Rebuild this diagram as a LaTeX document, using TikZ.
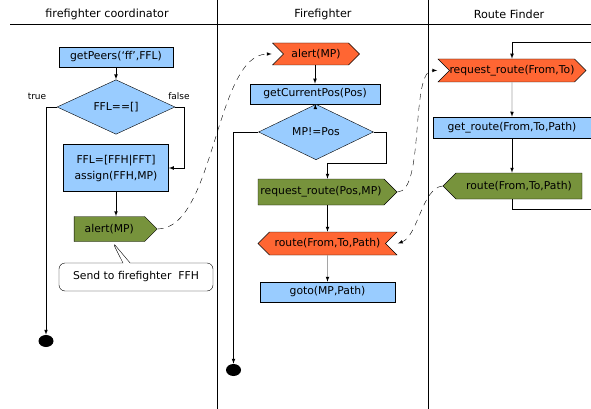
\documentclass[tikz,border=0pt]{standalone}
\usepackage{fontspec}
\setmainfont{DejaVu Sans}
\usetikzlibrary{shapes.geometric,shapes.symbols,shapes.callouts}

\definecolor{actblue}{RGB}{153,204,255}
\definecolor{sigorange}{RGB}{255,102,51}
\definecolor{siggreen}{RGB}{119,147,60}

\begin{document}
\begin{tikzpicture}[x=1pt,y=-1pt]
\tikzset{ >=latex, line width=0.7pt, font=\fontsize{10.8}{13}\selectfont,
  action/.style={draw, fill=actblue, inner sep=0pt, align=center},
  decision/.style={draw, shape=diamond, fill=actblue, inner sep=0pt},
  sendsig/.style={draw, shape=signal, signal to=east, signal from=nowhere, fill=siggreen, inner sep=0pt},
  recvsig/.style={draw, shape=signal, signal from=west, signal to=east, fill=sigorange, inner sep=0pt},
  final/.style={fill=black, shape=ellipse, minimum width=15, minimum height=12, inner sep=0pt},
  note/.style={draw, fill=white, shape=rectangle callout, rounded corners=6pt, inner sep=0pt},
  lane/.style={font=\fontsize{11.2}{13}\selectfont},
  guard/.style={font=\fontsize{9}{10}\selectfont},
  msg/.style={->, dashed, dash pattern=on 6pt off 5pt},
}

\useasboundingbox (0,0) rectangle (591,409);

% swimlanes
\draw (10,24) -- (591,24);
\draw (217,0) -- (217,409);
\draw (428,0) -- (428,409);

\node [lane] (coordlane) at (107,14) {firefighter coordinator};
\node [lane] (fflane)    at (323,14) {Firefighter};
\node [lane] (rflane)    at (509,14) {Route Finder};

% firefighter coordinator
\node [action, minimum width=114, minimum height=20] (peers) at (116,57) {getPeers(‘ff’,FFL)};
\node [decision, minimum width=118, minimum height=31] (empty) at (116,107) {FFL==[]};
\node [action, minimum width=105, minimum height=47] (assign) at (116,168) {FFL=[FFH|FFT]\\[3pt]assign(FFH,MP)};
\node [sendsig, minimum width=83, minimum height=25] (alertA) at (109.3,229) {alert(MP)};
\node [note, callout absolute pointer={([xshift=3pt]alertA.south)}, minimum width=154, minimum height=28] (sendnote) at (136,277) {Send to firefighter\ \ FFH};
\node [final] (endA) at (46,341) {};

\node [guard] (truelbl)  at (37,96)  {true};
\node [guard] (falselbl) at (179,96) {false};

\draw [->] (peers) -- (empty);
\draw [->] (empty.west) -| (endA.north);
\draw [->] (empty.east) -- ++(9,0) |- (assign.east);
\draw [->] (assign.south) -- (assign.south |- alertA.north);

% firefighter
\node [recvsig, minimum width=87, minimum height=22] (alertB) at (316,54) {alert(MP)};
\node [action, minimum width=130, minimum height=20] (curpos) at (315,94) {getCurrentPos(Pos)};
\node [decision, minimum width=115, minimum height=30] (atpos) at (316,132) {MP!=Pos};
\node [sendsig, minimum width=139, minimum height=26] (askroute) at (321,192) {request\_route(Pos,MP)};
\node [recvsig, signal from=east, signal to=west, minimum width=139, minimum height=23] (gotroute) at (327.5,243.5) {route(From,To,Path)};
\node [action, minimum width=135, minimum height=20] (goto) at (327.5,292) {goto(MP,Path)};
\node [final] (endB) at (233.5,370) {};

\draw [->] (alertB.south -| curpos.north) -- (curpos.north);
\draw [->] (curpos) -- (atpos);
\draw [->] (atpos.west) -| (endB.north);
\draw [->] (atpos.east) -| ++(12,31) -| (gotroute.north |- askroute.north);
\draw [->] (gotroute.north |- askroute.south) -- (gotroute.north);
\draw [->] (gotroute) -- (goto);

% route finder
\coordinate (loopin)  at (591,42);
\coordinate (loopout) at (591,209);
\node [recvsig, minimum width=146, minimum height=23] (reqroute) at (512,70.5) {request\_route(From,To)};
\node [action, minimum width=158, minimum height=21] (findroute) at (512,127.5) {get\_route(From,To,Path)};
\node [sendsig, signal to=west, minimum width=139, minimum height=26] (sendroute) at (519,186) {route(From,To,Path)};

\draw [->] (loopin) -| (reqroute.north);
\draw [->] (reqroute) -- (findroute);
\draw [->] (findroute.south) -- (findroute.south |- sendroute.north);
\draw (findroute.south |- sendroute.south) |- (loopout);

% messages
\draw [msg] (alertA.east) .. controls (215,229) and (215,54) .. (alertB.north west |- alertB.center);
\draw [msg] (askroute.east) .. controls (425,192) and (410,70) .. (reqroute.north west |- reqroute.center);
\draw [msg] (sendroute.west) .. controls (422,188) and (418,236) .. (gotroute.north east |- gotroute.center);

\end{tikzpicture}
\end{document}
